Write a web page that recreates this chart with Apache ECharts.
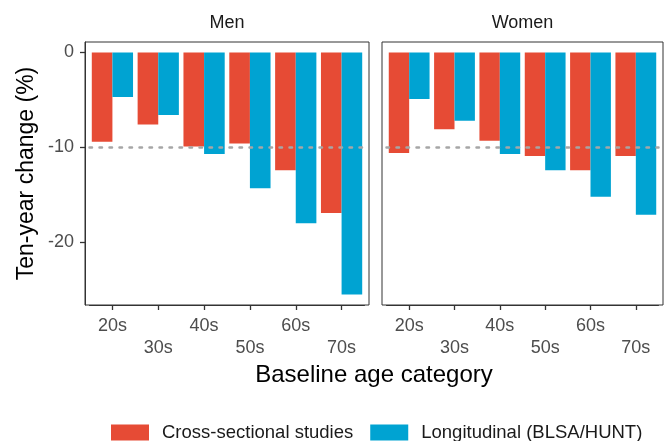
<!DOCTYPE html>
<html>
<head>
<meta charset="utf-8">
<script src="https://cdn.jsdelivr.net/npm/echarts@6/dist/echarts.min.js"></script>
<style>
  html, body { margin: 0; padding: 0; background: #fff; }
  #chart { width: 665px; height: 441px; }
</style>
</head>
<body>
<div id="chart"></div>
<script>
// data
const ageGroups = ['20s', '30s', '40s', '50s', '60s', '70s'];
const menCross = [-9.4, -7.6, -9.9, -9.6, -12.4, -16.9];
const menLong = [-4.7, -6.6, -10.7, -14.3, -18.0, -25.5];
const womenCross = [-10.6, -8.1, -9.3, -10.9, -12.4, -10.9];
const womenLong = [-4.9, -7.2, -10.7, -12.4, -15.2, -17.1];
const yTicks = [0, -10, -20];
const refLine = -10;
const seriesNames = ['Cross-sectional studies', 'Longitudinal (BLSA/HUNT)'];

const RED = '#E64B35';
const BLUE = '#00A3D2';
const YMIN = -26.6, YMAX = 1.1;
const FONT = '"Liberation Sans", Arial, sans-serif';

const chart = echarts.init(document.getElementById('chart'), null, { renderer: 'canvas' });

// panel frame: only carries the strip title on top
function frameX(idx, title) {
  return {
    gridIndex: idx, type: 'value', min: 0, max: 1, position: 'top',
    axisLine: { show: false }, axisTick: { show: false },
    axisLabel: { show: false }, splitLine: { show: false },
    name: title, nameLocation: 'middle', nameGap: 10,
    nameTextStyle: { fontSize: 18, color: '#1a1a1a', fontFamily: FONT }
  };
}
function dataX(idx) {
  return {
    gridIndex: idx, type: 'category', data: ageGroups, position: 'bottom',
    axisLine: { show: true, onZero: false, lineStyle: { color: '#333', width: 1 } },
    axisTick: { show: true, inside: false, alignWithLabel: true, length: 5, lineStyle: { color: '#333', width: 1.3 } },
    axisLabel: {
      interval: 0, margin: 10, fontSize: 18, lineHeight: 22, color: '#4D4D4D', fontFamily: FONT,
      formatter: (v, i) => (i % 2 ? '\n' + v : v)
    },
    splitLine: { show: false }
  };
}
function hiddenY(idx) {
  return { gridIndex: idx, type: 'value', min: YMIN, max: YMAX, show: false, splitLine: { show: false } };
}
function bars(name, data, color, xi, withRef) {
  const s = {
    name: name, type: 'bar', xAxisIndex: xi, yAxisIndex: xi, data: data,
    barGap: '0%', barCategoryGap: '10%',
    itemStyle: { color: color }
  };
  if (withRef) {
    s.markLine = {
      silent: true, symbol: 'none', label: { show: false },
      lineStyle: { color: '#a6a6a6', width: 2.5, type: [2.5, 7.5], cap: 'round', opacity: 1 },
      data: [{ yAxis: refLine }]
    };
  }
  return s;
}

const option = {
  animation: false,
  backgroundColor: '#fff',
  grid: [
    { left: 85, top: 42, width: 284, height: 263, show: true, borderColor: '#333', borderWidth: 1 },
    { left: 89.5, top: 42, width: 275, height: 263 },
    { left: 382, top: 42, width: 281, height: 263, show: true, borderColor: '#333', borderWidth: 1 },
    { left: 386.5, top: 42, width: 272, height: 263 }
  ],
  xAxis: [frameX(0, 'Men'), dataX(1), frameX(2, 'Women'), dataX(3)],
  yAxis: [
    {
      gridIndex: 0, type: 'value', min: YMIN, max: YMAX,
      axisLine: { show: true, onZero: false, lineStyle: { color: '#333', width: 1 } },
      axisTick: { show: true, inside: false, customValues: yTicks, length: 5, lineStyle: { color: '#333', width: 1.3 } },
      axisLabel: { customValues: yTicks, margin: 11, fontSize: 18, color: '#4D4D4D', fontFamily: FONT },
      splitLine: { show: false },
      name: 'Ten-year change (%)', nameLocation: 'middle', nameGap: 47,
      nameTextStyle: { fontSize: 23, color: '#000', fontFamily: FONT }
    },
    hiddenY(1),
    {
      gridIndex: 2, type: 'value', min: YMIN, max: YMAX,
      axisLine: { show: false }, axisTick: { show: false },
      axisLabel: { show: false }, splitLine: { show: false }
    },
    hiddenY(3)
  ],
  legend: {
    data: seriesNames, left: 111, top: 423, padding: 0,
    icon: 'rect', itemWidth: 38, itemHeight: 16, itemGap: 17,
    textStyle: { fontSize: 18.5, color: '#1a1a1a', fontFamily: FONT, padding: [0, 0, 0, 8] }
  },
  graphic: [{
    type: 'text', x: 374, y: 375,
    style: { text: 'Baseline age category', fontSize: 24, fill: '#000', fontFamily: FONT,
             textAlign: 'center', textVerticalAlign: 'middle' }
  }],
  series: [
    bars(seriesNames[0], menCross, RED, 1, false),
    bars(seriesNames[1], menLong, BLUE, 1, true),
    bars(seriesNames[0], womenCross, RED, 3, false),
    bars(seriesNames[1], womenLong, BLUE, 3, true)
  ]
};
chart.setOption(option);
</script>
</body>
</html>
